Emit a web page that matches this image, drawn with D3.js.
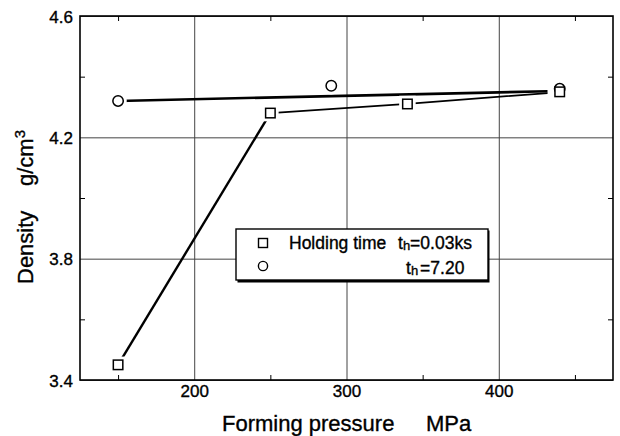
<!DOCTYPE html>
<html>
<head>
<meta charset="utf-8">
<script src="https://cdn.jsdelivr.net/npm/d3@7"></script>
<style>
  body { margin: 0; background: #fff; }
  text { font-family: "Liberation Sans", Arial, Helvetica, sans-serif; fill: #000; stroke: #000; stroke-width: 0.35px; }
  .domain { display: none; }
</style>
</head>
<body>
<svg id="chart"></svg>
<script>
// measured points
const pressureSq = [150, 250, 340, 440];
const densitySq = [3.45, 4.28, 4.31, 4.35];
const pressureCi = [150, 290, 440];
const densityCi = [4.32, 4.37, 4.36];
// hand drawn trend lines of the figure
const trendSqX = [150, 250, 340, 432];
const trendSqY = [3.45, 4.28, 4.31, 4.346];
const trendCiX = [150, 432];
const trendCiY = [4.32, 4.352];
// ticks
const xMajor = [200, 300, 400];
const xMinor = [150, 250, 350, 450];
const yMajor = [3.4, 3.8, 4.2, 4.6];
const yMinor = [3.6, 4.0, 4.4];

const config = {
    width: 620,
    height: 436,
    margin: { top: 16, right: 7, bottom: 56, left: 80 }
};

const svg = d3.select('#chart')
    .attr('width', config.width)
    .attr('height', config.height);

const m = config.margin;
const innerW = config.width - m.left - m.right;
const innerH = config.height - m.top - m.bottom;

const chart = svg.append('g')
    .attr('transform', `translate(${m.left}, ${m.top})`);

const xscale = d3.scaleLinear().domain([125, 475]).range([0, innerW]);
const yscale = d3.scaleLinear().domain([3.4, 4.6]).range([innerH, 0]);

// gridlines + labels from major ticks
const xgrid = chart.append('g')
    .attr('transform', `translate(0, ${innerH})`)
    .call(d3.axisBottom(xscale).tickValues(xMajor).tickSizeInner(-innerH).tickSizeOuter(0).tickPadding(14).tickFormat(d3.format('d')));
xgrid.selectAll('line').attr('stroke', '#444').attr('stroke-width', 1);
xgrid.selectAll('text').attr('font-size', '17px').attr('dy', '0.2em');

const ygrid = chart.append('g')
    .call(d3.axisLeft(yscale).tickValues(yMajor).tickSizeInner(-innerW).tickSizeOuter(0).tickPadding(7).tickFormat(d3.format('.1f')));
ygrid.selectAll('line').attr('stroke', '#444').attr('stroke-width', 1);
ygrid.selectAll('text').attr('font-size', '17px').attr('dy', '0.36em');

// minor ticks pointing inward on all four sides
const minorTick = 5;
chart.append('g').attr('transform', `translate(0, ${innerH})`)
    .call(d3.axisBottom(xscale).tickValues(xMinor).tickSize(-minorTick).tickFormat(''));
chart.append('g')
    .call(d3.axisTop(xscale).tickValues(xMinor).tickSize(-minorTick).tickFormat(''));
chart.append('g')
    .call(d3.axisLeft(yscale).tickValues(yMinor).tickSize(-minorTick).tickFormat(''));
chart.append('g').attr('transform', `translate(${innerW}, 0)`)
    .call(d3.axisRight(yscale).tickValues(yMinor).tickSize(-minorTick).tickFormat(''));
chart.selectAll('.tick line').filter(function () { return !this.getAttribute('stroke'); })
    .attr('stroke', '#000').attr('stroke-width', 1.3);

// frame
chart.append('rect')
    .attr('width', innerW).attr('height', innerH)
    .attr('fill', 'none').attr('stroke', '#000').attr('stroke-width', 1.6);

// trend lines
const line = d3.line().x(d => xscale(d[0])).y(d => yscale(d[1]));
chart.append('path')
    .datum(trendCiX.map((v, i) => [v, trendCiY[i]]))
    .attr('d', line).attr('fill', 'none').attr('stroke', '#000').attr('stroke-width', 2.6);
chart.append('path')
    .datum(trendSqX.slice(0, 2).map((v, i) => [v, trendSqY[i]]))
    .attr('d', line).attr('fill', 'none').attr('stroke', '#000').attr('stroke-width', 2.4);
chart.append('path')
    .datum(trendSqX.slice(1).map((v, i) => [v, trendSqY[i + 1]]))
    .attr('d', line).attr('fill', 'none').attr('stroke', '#000').attr('stroke-width', 1.8);

// markers (white halo first so the lines stop short of them)
const sqData = pressureSq.map((v, i) => ({ x: v, y: densitySq[i] }));
const ciData = pressureCi.map((v, i) => ({ x: v, y: densityCi[i] }));
const sq = 9.5;
[{ c: '#fff', w: 7 }, { c: '#000', w: 1.5 }].forEach(s => {
    chart.selectAll(null).data(ciData).enter().append('circle')
        .attr('cx', d => xscale(d.x)).attr('cy', d => yscale(d.y)).attr('r', 5.2)
        .attr('fill', '#fff').attr('stroke', s.c).attr('stroke-width', s.w);
    chart.selectAll(null).data(sqData).enter().append('rect')
        .attr('x', d => xscale(d.x) - sq / 2).attr('y', d => yscale(d.y) - sq / 2)
        .attr('width', sq).attr('height', sq)
        .attr('fill', '#fff').attr('stroke', s.c).attr('stroke-width', s.w);
});

// legend
const legend = svg.append('g').attr('transform', 'translate(236, 229)');
legend.append('rect').attr('x', 1.5).attr('y', 1.5).attr('width', 252).attr('height', 52).attr('fill', '#000');
legend.append('rect').attr('width', 252).attr('height', 51)
    .attr('fill', '#fff').attr('stroke', '#000').attr('stroke-width', 1.4);
legend.append('rect').attr('x', 22.5).attr('y', 9.5).attr('width', 9).attr('height', 9)
    .attr('fill', '#fff').attr('stroke', '#000').attr('stroke-width', 1.4);
legend.append('circle').attr('cx', 27).attr('cy', 37).attr('r', 4.6)
    .attr('fill', '#fff').attr('stroke', '#000').attr('stroke-width', 1.4);
legend.append('text').attr('x', 53).attr('y', 20).attr('font-size', '17.5px').text('Holding time');
const t1 = legend.append('text').attr('x', 162).attr('y', 20).attr('font-size', '17.5px');
t1.append('tspan').text('t');
t1.append('tspan').attr('font-size', '13px').attr('dy', 1).text('h');
t1.append('tspan').attr('dy', -1).text('=0.03ks');
const t2 = legend.append('text').attr('x', 170).attr('y', 45).attr('font-size', '17.5px');
t2.append('tspan').text('t');
t2.append('tspan').attr('font-size', '13px').attr('dy', 1).text('h');
t2.append('tspan').attr('dy', -1).attr('dx', 2).text('=7.20');

// axis titles
svg.append('text').attr('x', 222).attr('y', 431).attr('font-size', '22px').text('Forming pressure');
svg.append('text').attr('x', 426).attr('y', 431).attr('font-size', '22px').text('MPa');

svg.append('text')
    .attr('transform', 'translate(33, 284) rotate(-90)')
    .attr('font-size', '22px').text('Density');
const yunit = svg.append('text')
    .attr('transform', 'translate(33, 186) rotate(-90)')
    .attr('font-size', '22px');
yunit.append('tspan').text('g/cm');
yunit.append('tspan').attr('font-size', '15px').attr('dy', -8).text('3');
</script>
</body>
</html>
